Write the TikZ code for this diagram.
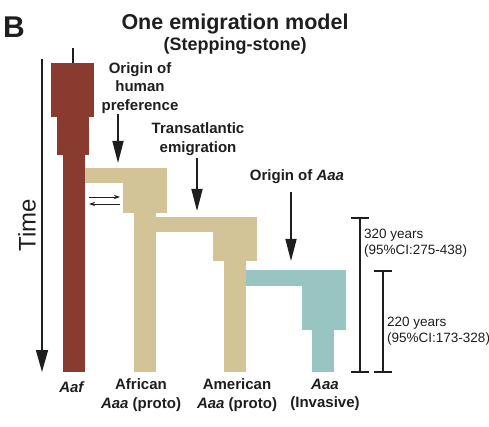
\documentclass[tikz,border=0pt]{standalone}
\usepackage{fontspec}
\setmainfont{Liberation Sans}
\usetikzlibrary{arrows.meta,positioning}
\definecolor{aafred}  {RGB}{137, 59, 48}
\definecolor{protan}  {RGB}{211,196,152}
\definecolor{invteal} {RGB}{152,196,194}
\definecolor{inkgray} {RGB}{ 30, 30, 30}
\tikzset{
  lbl/.style={font=\fontsize{15}{18.5}\selectfont\bfseries,text=inkgray,
              align=center,inner sep=0pt},
  yrs/.style={font=\fontsize{13.5}{16}\selectfont,text=inkgray,
              align=left,anchor=west,inner sep=0pt},
  bigarr/.style={-{Triangle[length=22pt,width=11pt]},line width=1.6pt,
                 color=inkgray},
  smallarr/.style={-{Stealth[length=6pt,width=4pt]},line width=0.8pt,
                   color=inkgray},
  bar/.style={line width=1.3pt,color=inkgray},
}
\begin{document}
\begin{tikzpicture}[x=1pt,y=-1pt]
  \useasboundingbox (0,0) rectangle (489,427);
  % heading
  \node[font=\fontsize{30}{32}\selectfont\bfseries,text=inkgray](panel) at (14,27){B};
  \node[font=\fontsize{21.5}{24}\selectfont\bfseries,text=inkgray](title) at (235,24){One emigration model};
  \node[font=\fontsize{18}{20}\selectfont\bfseries,text=inkgray](sub) at (235,46){(Stepping-stone)};
  % time axis
  \coordinate (t0) at (42,59);
  \coordinate (t1) at (42,372);
  \draw[-{Triangle[length=22pt,width=12pt]},line width=1.6pt,color=inkgray](t0)--(t1);
  \node[font=\fontsize{24}{26}\selectfont,text=inkgray,rotate=90](time) at (27,225){Time};
  % Aaf lineage
  \draw[line width=1.3pt,color=inkgray](73,48)--(73,63);
  \fill[aafred](51,63) rectangle (94,117);
  \fill[aafred](57,117) rectangle (89,155);
  \fill[aafred](63,155) rectangle (85,372);
  % African Aaa (proto)
  \fill[protan](85,168) rectangle (167,183);
  \fill[protan](123,168) rectangle (167,213);
  \fill[protan](134,213) rectangle (156,372);
  % American Aaa (proto)
  \fill[protan](156,217) rectangle (257,232);
  \fill[protan](213,217) rectangle (257,261);
  \fill[protan](224,261) rectangle (246,372);
  % Aaa (Invasive)
  \fill[invteal](246,270) rectangle (346,286);
  \fill[invteal](302,270) rectangle (346,330);
  \fill[invteal](312,330) rectangle (334,372);
  % gene flow
  \coordinate (gfl) at (89,197);
  \coordinate (gfr) at (120,197);
  \draw[smallarr](gfl)--(gfr);
  \draw[smallarr]([yshift=-7pt]gfr)--([yshift=-7pt]gfl);
  % events
  \node[lbl](pref) at (140,88){Origin of\\human\\preference};
  \coordinate (pref0) at (118,114);
  \coordinate (pref1) at (118,163);
  \draw[bigarr](pref0)--(pref1);
  \node[lbl](trans) at (198,139){Transatlantic\\emigration};
  \coordinate (trans0) at (197,158);
  \coordinate (trans1) at (197,211);
  \draw[bigarr](trans0)--(trans1);
  \node[lbl](orig) at (297,177){Origin of \textit{Aaa}};
  \coordinate (orig0) at (291,192);
  \coordinate (orig1) at (291,261);
  \draw[bigarr](orig0)--(orig1);
  % time spans
  \coordinate (s1t) at (360,218);
  \coordinate (s1b) at (360,372);
  \draw[bar](s1t)--(s1b);
  \draw[bar]([xshift=-9pt]s1t)--([xshift=9pt]s1t);
  \draw[bar]([xshift=-9pt]s1b)--([xshift=9pt]s1b);
  \node[yrs](s1lbl) at (364,243){320 years\\(95\%CI:275-438)};
  \coordinate (s2t) at (383,271);
  \coordinate (s2b) at (383,372);
  \draw[bar](s2t)--(s2b);
  \draw[bar]([xshift=-9pt]s2t)--([xshift=9pt]s2t);
  \draw[bar]([xshift=-9pt]s2b)--([xshift=9pt]s2b);
  \node[yrs](s2lbl) at (387,331){220 years\\(95\%CI:173-328)};
  % lineage names
  \node[lbl](aaf) at (72,387){\textit{Aaf}};
  \node[lbl](afr) at (141,395){African\\\textit{Aaa} (proto)};
  \node[lbl](amr) at (237,395){American\\\textit{Aaa} (proto)};
  \node[lbl](inv) at (325,395){\textit{Aaa}\\(Invasive)};
\end{tikzpicture}
\end{document}
